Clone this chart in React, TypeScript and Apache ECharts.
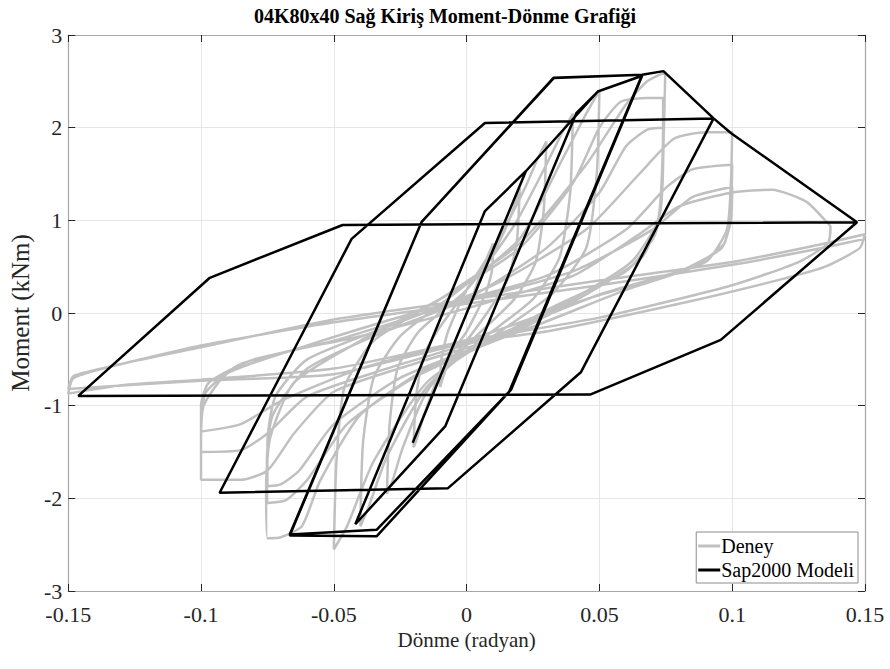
import React, { useEffect, useRef } from "react";
import * as echarts from "echarts";

const titleText = "04K80x40 Sağ Kiriş Moment-Dönme Grafiği";
const xAxisName = "Dönme (radyan)";
const yAxisName = "Moment (kNm)";
const seriesNames = ["Deney", "Sap2000 Modeli"];

// Experimental (Deney) cycles, traced clockwise
const deneyC1 = [[0,0],[0.005,0.4],[0.008,0.62],[0.01,0.75],[0.0095,0.45],[0.007,0.2],[0,-0.2],[-0.005,-0.4],[-0.008,-0.62],[-0.01,-0.8],[-0.0095,-0.5],[-0.007,-0.2],[0,0.25],[0.01,0.65],[0.016,1.0],[0.019,1.25],[0.02,1.35]];
const deneyC2 = [[0.019,0.8],[0.016,0.4],[0.01,0.1],[0,-0.3],[-0.01,-0.65],[-0.016,-1.1],[-0.019,-1.38],[-0.02,-1.45],[-0.019,-0.9],[-0.016,-0.45],[-0.01,-0.15],[0,0.25],[0.012,0.8],[0.022,1.35],[0.027,1.68],[0.03,1.85]];
const deneyC3 = [[0.029,1.1],[0.026,0.55],[0.018,0.15],[0,-0.35],[-0.015,-0.85],[-0.024,-1.45],[-0.028,-1.82],[-0.03,-1.95],[-0.029,-1.2],[-0.026,-0.6],[-0.018,-0.2],[0,0.25],[0.018,0.95],[0.03,1.6],[0.036,1.95],[0.04,2.15]];
const deneyC4 = [[0.039,1.3],[0.035,0.6],[0.025,0.15],[0.005,-0.3],[-0.015,-0.8],[-0.03,-1.55],[-0.037,-2.1],[-0.04,-2.3],[-0.039,-1.4],[-0.035,-0.7],[-0.025,-0.25],[-0.005,0.2],[0.02,0.8],[0.035,1.6],[0.045,2.15],[0.05,2.4]];
const deneyC5 = [[0.049,1.5],[0.045,0.7],[0.032,0.2],[0.01,-0.25],[-0.015,-0.75],[-0.035,-1.6],[-0.045,-2.3],[-0.05,-2.55],[-0.049,-1.6],[-0.046,-0.8],[-0.035,-0.3],[-0.01,0.15],[0.02,0.75],[0.045,1.6],[0.06,2.25],[0.068,2.5],[0.0748,2.6]];
const deneyC6 = [[0.0742,1.9],[0.073,1.1],[0.066,0.6],[0.045,0.2],[0.015,-0.25],[-0.015,-0.6],[-0.04,-1.1],[-0.055,-1.8],[-0.062,-2.3],[-0.07,-2.42],[-0.075,-2.43],[-0.0755,-1.9],[-0.074,-1.35],[-0.065,-0.75],[-0.04,-0.3],[-0.01,0.15],[0.02,0.7],[0.04,1.4],[0.05,2.0],[0.058,2.28],[0.068,2.32],[0.074,2.32]];
const deneyC7 = [[0.0738,1.7],[0.072,1.0],[0.062,0.55],[0.04,0.15],[0.01,-0.3],[-0.02,-0.7],[-0.045,-1.2],[-0.06,-1.8],[-0.068,-2.02],[-0.075,-2.05],[-0.0752,-1.6],[-0.073,-1.1],[-0.06,-0.6],[-0.035,-0.25],[0,0.15],[0.03,0.7],[0.05,1.3],[0.06,1.8],[0.068,1.98],[0.074,2.0]];
const deneyC8 = [[0.0738,1.4],[0.071,0.85],[0.06,0.45],[0.035,0.1],[0.005,-0.35],[-0.025,-0.7],[-0.05,-1.2],[-0.063,-1.7],[-0.07,-1.85],[-0.075,-1.87],[-0.075,-1.4],[-0.072,-0.9],[-0.06,-0.5],[-0.03,-0.15],[0.01,0.3],[0.045,0.9],[0.065,1.5],[0.078,1.88],[0.09,1.95],[0.1,1.95]];
const deneyC9 = [[0.0995,1.4],[0.098,0.9],[0.09,0.55],[0.06,0.25],[0.02,-0.2],[-0.02,-0.55],[-0.05,-0.85],[-0.065,-1.3],[-0.075,-1.7],[-0.085,-1.8],[-0.1,-1.8],[-0.1,-1.4],[-0.099,-1.0],[-0.09,-0.65],[-0.06,-0.35],[-0.02,0.0],[0.03,0.4],[0.06,0.9],[0.075,1.35],[0.085,1.55],[0.1,1.6]];
const deneyC10 = [[0.0995,1.15],[0.097,0.75],[0.085,0.5],[0.05,0.2],[0.01,-0.25],[-0.03,-0.6],[-0.06,-0.9],[-0.075,-1.3],[-0.085,-1.48],[-0.1,-1.5],[-0.1,-1.15],[-0.098,-0.85],[-0.085,-0.55],[-0.05,-0.3],[-0.01,0.05],[0.04,0.45],[0.07,0.9],[0.085,1.25],[0.1,1.36]];
const deneyC11 = [[0.0995,1.0],[0.096,0.7],[0.08,0.45],[0.045,0.15],[0.005,-0.25],[-0.04,-0.6],[-0.07,-0.95],[-0.085,-1.2],[-0.1,-1.28],[-0.1,-1.0],[-0.097,-0.75],[-0.08,-0.5],[-0.04,-0.25],[0,0.05],[0.04,0.4],[0.065,0.85],[0.08,1.15],[0.1,1.3],[0.115,1.33],[0.128,1.2],[0.135,1.0],[0.137,0.93]];
const deneyC12 = [[0.136,0.75],[0.125,0.55],[0.1,0.3],[0.05,-0.05],[0,-0.3],[-0.05,-0.6],[-0.1,-0.72],[-0.13,-0.78],[-0.15,-0.87],[-0.148,-0.7],[-0.13,-0.55],[-0.1,-0.37],[-0.05,-0.07],[0,0.14],[0.05,0.35],[0.1,0.55],[0.13,0.72],[0.15,0.85]];
const deneyC13 = [[0.148,0.7],[0.135,0.5],[0.118,0.36],[0.08,0.1],[0.03,-0.2],[0,-0.32],[-0.05,-0.66],[-0.1,-0.73],[-0.15,-0.82],[-0.148,-0.68],[-0.13,-0.55],[-0.1,-0.35],[-0.05,-0.1],[0,0.1],[0.05,0.3],[0.1,0.52],[0.13,0.68],[0.15,0.8]];

// SAP2000 model path
const sapInitial = [[-0.0203,-1.40],[0.0223,1.53],[0.0494,2.39],[0.0414,2.16],[-0.008,-1.22],[-0.0419,-2.28],[0.0069,1.10],[0.0223,1.53],[0.0494,2.39],[0.0661,2.56]];
const sapLoopC = [[0.0167,-0.83],[-0.0339,-2.34],[-0.0666,-2.39],[-0.017,0.98],[0.0328,2.535],[0.0661,2.57],[0.016,-0.85],[-0.0339,-2.41],[-0.0666,-2.40],[-0.017,0.98],[0.0328,2.54],[0.0661,2.57],[0.0741,2.61]];
const sapLoopB = [[0.093,2.10],[0.043,-0.64],[-0.007,-1.89],[-0.093,-1.94],[-0.0433,0.80],[0.0069,2.05],[0.093,2.10],[0.0996,1.94],[0.147,0.98]];
const sapLoopA = [[0.0957,-0.29],[0.0465,-0.88],[-0.1462,-0.895],[-0.0967,0.38],[-0.0467,0.95],[0.147,0.98]];

const deneyData = [
  ...deneyC1, ...deneyC2, ...deneyC3, ...deneyC4, ...deneyC5, ...deneyC6, ...deneyC7,
  ...deneyC8, ...deneyC9, ...deneyC10, ...deneyC11, ...deneyC12, ...deneyC13,
];
const sapData = [...sapInitial, ...sapLoopC, ...sapLoopB, ...sapLoopA];

const FONT = "'Liberation Serif', 'Times New Roman', serif";

export default function App() {
  const ref = useRef<HTMLDivElement>(null);
  useEffect(() => {
    if (!ref.current) return;
    const chart = echarts.init(ref.current, undefined, { renderer: "svg" });
    const fmt = (v: number) => String(parseFloat(v.toFixed(2)));
    const boxLine = { show: true, onZero: false, lineStyle: { color: "#a6a6a6", width: 1.2 } };
    const tick = { show: true, inside: true, length: 7, lineStyle: { color: "#262626" } };
    chart.setOption({
      animation: false,
      backgroundColor: "#ffffff",
      title: {
        text: titleText,
        left: "center",
        top: 1,
        textStyle: { fontFamily: FONT, fontSize: 20, fontWeight: "bold", color: "#000" },
      },
      grid: { left: 57, right: 25, top: 35, bottom: 78 },
      legend: {
        data: seriesNames,
        orient: "vertical",
        right: 32,
        bottom: 86,
        icon: "rect",
        backgroundColor: "#fff",
        borderColor: "#8c8c8c",
        borderWidth: 1,
        borderRadius: 0,
        padding: [4, 4, 3, 2],
        itemGap: 4,
        itemWidth: 22,
        itemHeight: 3,
        textStyle: { fontFamily: FONT, fontSize: 20, color: "#000", padding: [0, 0, 0, -4] },
      },
      xAxis: [
        {
          type: "value",
          min: -0.15,
          max: 0.15,
          interval: 0.05,
          name: xAxisName,
          nameLocation: "middle",
          nameGap: 36,
          nameTextStyle: { fontFamily: FONT, fontSize: 21, color: "#262626" },
          axisLine: boxLine,
          axisTick: tick,
          axisLabel: { formatter: fmt, fontFamily: FONT, fontSize: 22, color: "#262626", margin: 12 },
          splitLine: { show: true, lineStyle: { color: "#e6e6e6", width: 1 } },
        },
        {
          type: "value",
          position: "top",
          min: -0.15,
          max: 0.15,
          interval: 0.05,
          axisLine: boxLine,
          axisTick: tick,
          axisLabel: { show: false },
          splitLine: { show: false },
        },
      ],
      yAxis: [
        {
          type: "value",
          min: -3,
          max: 3,
          interval: 1,
          name: yAxisName,
          nameLocation: "middle",
          nameGap: 22,
          nameTextStyle: { fontFamily: FONT, fontSize: 25, color: "#262626" },
          axisLine: boxLine,
          axisTick: tick,
          axisLabel: { fontFamily: FONT, fontSize: 22, color: "#262626", margin: 6 },
          splitLine: { show: true, lineStyle: { color: "#e6e6e6", width: 1 } },
        },
        {
          type: "value",
          position: "right",
          min: -3,
          max: 3,
          interval: 1,
          axisLine: boxLine,
          axisTick: tick,
          axisLabel: { show: false },
          splitLine: { show: false },
        },
      ],
      series: [
        {
          name: seriesNames[0],
          type: "line",
          data: deneyData,
          showSymbol: false,
          symbol: "none",
          smooth: 0.2,
          lineStyle: { color: "#c0c0c0", width: 2.5 },
          itemStyle: { color: "#c0c0c0" },
          z: 2,
        },
        {
          name: seriesNames[1],
          type: "line",
          data: sapData,
          showSymbol: false,
          symbol: "none",
          lineStyle: { color: "#000000", width: 2.5 },
          itemStyle: { color: "#000000" },
          z: 3,
        },
      ],
    });
    return () => chart.dispose();
  }, []);
  return (
    <div
      ref={ref}
      style={{ position: "fixed", left: 0, top: 0, width: 890, height: 669, background: "#fff" }}
    />
  );
}
